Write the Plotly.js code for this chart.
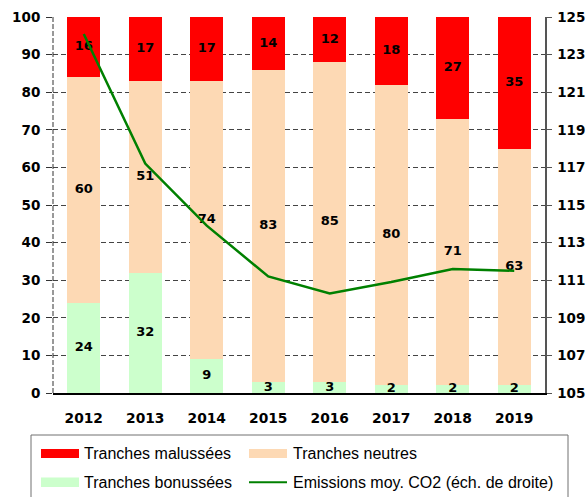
<!DOCTYPE html>
<html>
<head>
<meta charset="utf-8">
<script src="https://cdn.plot.ly/plotly-3.0.1.min.js"></script>
<style>html,body{margin:0;padding:0;background:#fff;}#chart{width:586px;height:497px;}</style>
</head>
<body>
<div id="chart"></div>
<script>
var years = ['2012','2013','2014','2015','2016','2017','2018','2019'];
var bonus = [24, 32, 9, 3, 3, 2, 2, 2];
var neutres = [60, 51, 74, 83, 85, 80, 71, 63];
var malus = [16, 17, 17, 14, 12, 18, 27, 35];
var co2 = [124.1, 117.2, 113.9, 111.2, 110.3, 110.9, 111.6, 111.5];
var leftTicks = [0,10,20,30,40,50,60,70,80,90,100];
var rightTicks = [105,107,109,111,113,115,117,119,121,123,125];
var seriesNames = ['Tranches malussées', 'Tranches neutres', 'Tranches bonussées', 'Emissions moy. CO2 (éch. de droite)'];
var colors = {malus: '#FF0000', neutre: '#FDD9B4', bonus: '#CCFFCC', line: '#008000'};

// plot-area geometry (pixels)
var W = 586, H = 497, ML = 53, MR = 41, MT = 17, MB = 104;
var PW = W - ML - MR, PH = H - MT - MB;
function px(x) { return (x - ML) / PW; }
function py(y) { return (H - MB - y) / PH; }

var labelFont = {family: 'DejaVu Sans', size: 13, color: '#000', weight: 'bold'};

function barTrace(name, vals, color) {
  return {
    type: 'bar', name: name, x: years, y: vals,
    marker: {color: color, line: {width: 0}},
    hoverinfo: 'skip', showlegend: false
  };
}

// segment label positions: middle of each stacked segment, derived from the data
var lblX = [], lblY = [], lblT = [];
years.forEach(function (yr, i) {
  var segs = [bonus[i], neutres[i], malus[i]], base = 0;
  segs.forEach(function (v) {
    lblX.push(yr); lblY.push(base + v / 2); lblT.push(String(v));
    base += v;
  });
});

var traces = [
  barTrace(seriesNames[2], bonus, colors.bonus),
  barTrace(seriesNames[1], neutres, colors.neutre),
  barTrace(seriesNames[0], malus, colors.malus),
  {
    type: 'scatter', mode: 'lines', name: seriesNames[3],
    x: years, y: co2, yaxis: 'y2', line: {color: colors.line, width: 2.5},
    hoverinfo: 'skip', showlegend: false
  },
  {
    type: 'scatter', mode: 'text', x: lblX, y: lblY, text: lblT,
    textposition: 'middle center', textfont: labelFont,
    hoverinfo: 'skip', showlegend: false, cliponaxis: false
  }
];

// custom legend (box, swatches, labels)
var legShapes = [
  {type: 'rect', xref: 'paper', yref: 'paper', x0: px(31), x1: px(568), y0: py(435), y1: py(540),
   line: {color: '#707070', width: 1}, fillcolor: 'rgba(0,0,0,0)'},
  {type: 'rect', xref: 'paper', yref: 'paper', x0: px(41), x1: px(79), y0: py(449), y1: py(458),
   line: {width: 0}, fillcolor: colors.malus},
  {type: 'rect', xref: 'paper', yref: 'paper', x0: px(249), x1: px(287), y0: py(449), y1: py(458),
   line: {width: 0}, fillcolor: colors.neutre},
  {type: 'rect', xref: 'paper', yref: 'paper', x0: px(41), x1: px(79), y0: py(477.5), y1: py(487),
   line: {width: 0}, fillcolor: colors.bonus},
  {type: 'line', xref: 'paper', yref: 'paper', x0: px(249), x1: px(287), y0: py(482.3), y1: py(482.3),
   line: {color: colors.line, width: 2}},
  {type: 'line', xref: 'paper', yref: 'paper', x0: 0, x1: 0, y0: 0, y1: 1,
   line: {color: '#333', width: 1, dash: '5px,2px'}}
];
var legFont = {family: 'Liberation Sans', size: 16, color: '#000'};
function legText(i, x, y) {
  return {xref: 'paper', yref: 'paper', x: px(x), y: py(y), xanchor: 'left', yanchor: 'middle',
          text: seriesNames[i], showarrow: false, font: legFont, borderpad: 0};
}
var legAnnots = [legText(0, 83, 453), legText(1, 291.5, 453), legText(2, 83, 482), legText(3, 291.5, 482)];

var layout = {
  width: W, height: H,
  margin: {l: ML, r: MR, t: MT, b: MB, pad: 0},
  paper_bgcolor: '#fff', plot_bgcolor: '#fff',
  barmode: 'stack', bargap: 0.46,
  showlegend: false,
  font: {family: 'DejaVu Sans', color: '#000'},
  xaxis: {
    type: 'category', showgrid: false, zeroline: false,
    showline: true, linecolor: '#000', linewidth: 1.5,
    ticks: '', ticklabelstandoff: 12,
    tickfont: {family: 'DejaVu Sans', size: 13.8, color: '#000', weight: 'bold'}
  },
  yaxis: {
    range: [0, 100], tickvals: leftTicks, ticktext: leftTicks.map(String),
    showgrid: true, gridcolor: '#444', griddash: '5px,3px', gridwidth: 1,
    zeroline: false, showline: false,
    ticks: 'outside', ticklen: 6, tickcolor: '#333', tickwidth: 1,
    ticklabelstandoff: 3,
    tickfont: {family: 'DejaVu Sans', size: 13.5, color: '#000', weight: 'bold'}
  },
  yaxis2: {
    overlaying: 'y', side: 'right', range: [105, 125],
    tickvals: rightTicks, ticktext: rightTicks.map(String),
    showgrid: false, zeroline: false,
    showline: true, linecolor: '#555', linewidth: 1.5,
    ticks: 'outside', ticklen: 5, tickcolor: '#555', tickwidth: 1,
    ticklabelstandoff: 3,
    tickfont: {family: 'DejaVu Sans', size: 13.5, color: '#000', weight: 'bold'}
  },
  shapes: legShapes,
  annotations: legAnnots
};

Plotly.newPlot('chart', traces, layout, {displayModeBar: false, staticPlot: true});
</script>
</body>
</html>
